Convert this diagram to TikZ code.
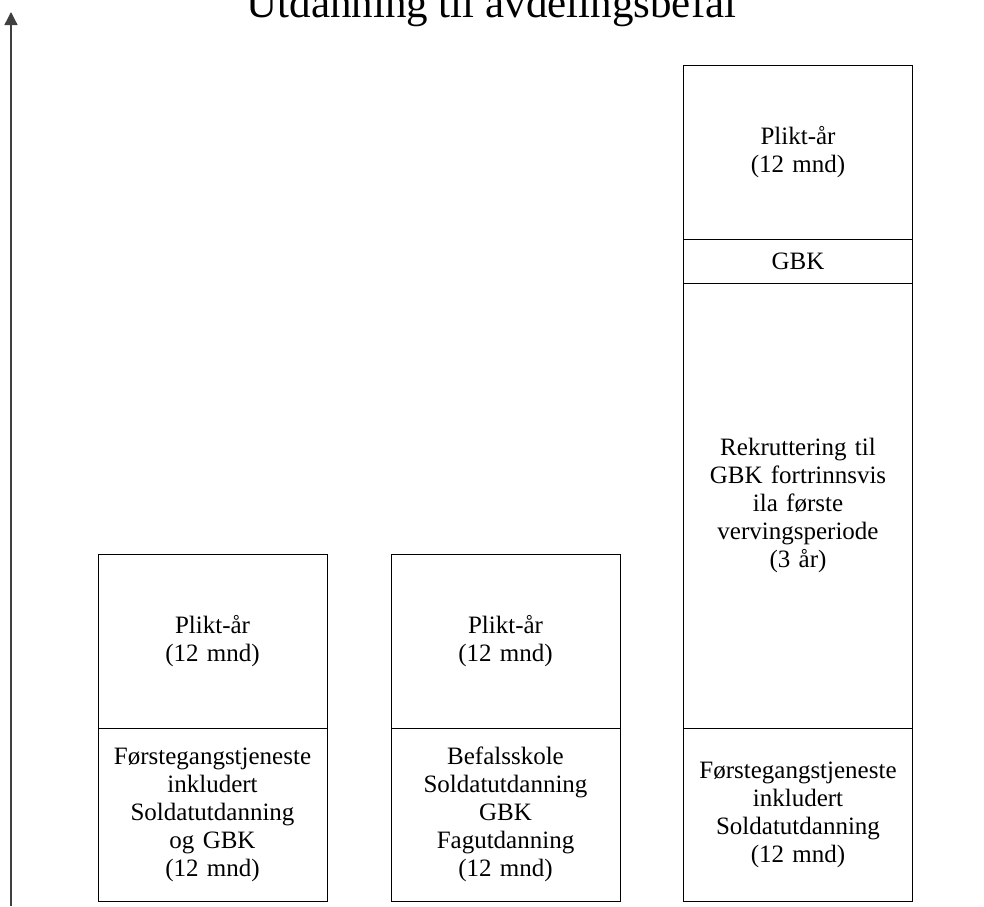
\documentclass[tikz,border=0pt]{standalone}
\usepackage{fontspec}
\setmainfont{Liberation Serif}
\usetikzlibrary{arrows.meta}
\tikzset{
  sec/.style={draw=black, line width=1pt, inner sep=0pt, minimum width=229pt,
    text width=225pt, align=center, font=\fontsize{25}{28}\selectfont},
  axisarrow/.style={draw=black!75, line width=1.3pt, -{Triangle[length=13pt,width=13pt]}},
  titletext/.style={inner sep=0pt, anchor=base, font=\fontsize{43}{48}\selectfont}
}
\begin{document}
\begin{tikzpicture}[x=1pt,y=-1pt]
\useasboundingbox (0,0) rectangle (984,906);
% title
\node[titletext] (title) at (491.5,17) {Utdanning til avdelingsbefal};
% axis arrow
\coordinate (abot) at (11,906);
\coordinate (atop) at (11,12);
\draw[axisarrow] (abot) -- (atop);
% column 1
\node[sec, minimum height=174pt] (b1top) at (212.5,641) {Plikt-år\\(12 mnd)};
\node[sec, minimum height=173pt] (b1bot) at (212.5,814.5) {Førstegangstjeneste\\inkludert\\Soldatutdanning\\og GBK\\(12 mnd)};
% column 2
\node[sec, minimum height=174pt] (b2top) at (505.5,641) {Plikt-år\\(12 mnd)};
\node[sec, minimum height=173pt] (b2bot) at (505.5,814.5) {Befalsskole\\Soldatutdanning\\GBK\\Fagutdanning\\(12 mnd)};
% column 3
\node[sec, minimum height=174pt] (b3a) at (798,152) {Plikt-år\\(12 mnd)};
\node[sec, minimum height=44pt] (b3b) at (798,261) {GBK};
\node[sec, minimum height=445pt] (b3c) at (798,505.5) {Rekruttering til\\GBK fortrinnsvis\\ila første\\vervingsperiode\\(3 år)};
\node[sec, minimum height=173pt] (b3d) at (798,814.5) {Førstegangstjeneste\\inkludert\\Soldatutdanning\\(12 mnd)};
\end{tikzpicture}
\end{document}
